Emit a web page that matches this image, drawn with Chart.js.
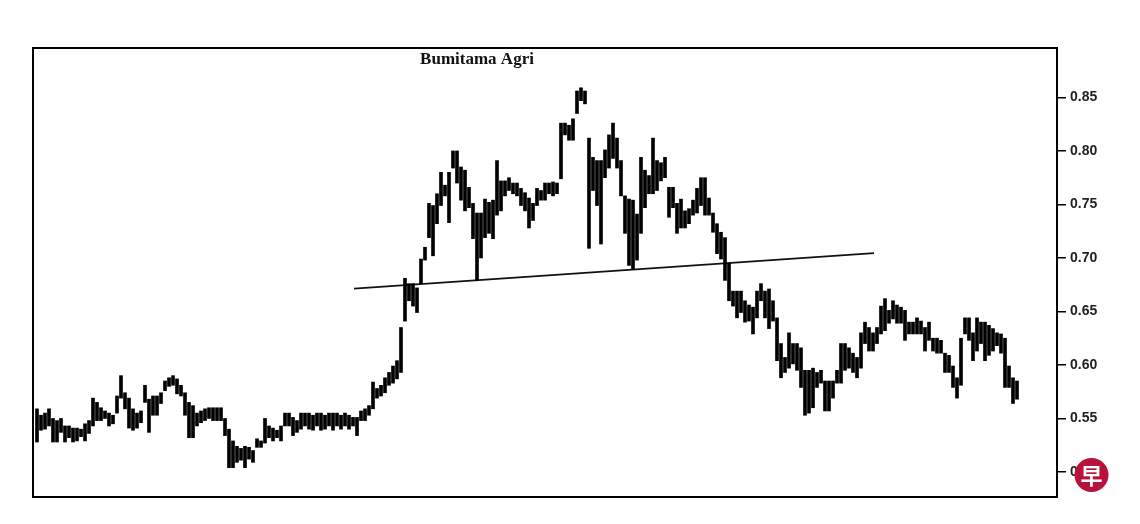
<!DOCTYPE html>
<html>
<head>
<meta charset="utf-8">
<script src="https://cdn.jsdelivr.net/npm/chart.js@4"></script>
<style>
  html, body { margin: 0; padding: 0; background: #fff; }
  canvas { display: block; }
</style>
</head>
<body>
<canvas id="priceChart" width="1140" height="524"></canvas>
<script>
const chartTitle = 'Bumitama Agri';

// daily high / low, one per trading session
const highs = [
  .559,.553,.555,.559,.550,.548,.550,.543,.543,.541,
  .541,.540,.545,.548,.569,.565,.560,.557,.555,.553,
  .571,.590,.574,.569,.559,.555,.557,.581,.568,.571,
  .571,.574,.585,.588,.590,.587,.581,.574,.565,.562,
  .555,.557,.559,.560,.560,.560,.560,.550,.540,.529,
  .524,.522,.524,.523,.520,.531,.529,.550,.543,.541,
  .539,.543,.555,.555,.551,.548,.555,.555,.555,.553,
  .555,.555,.553,.555,.555,.555,.553,.555,.553,.551,
  .551,.557,.559,.562,.584,.578,.581,.588,.593,.599,
  .604,.635,.681,.676,.676,.672,.699,.710,.751,.749,
  .760,.780,.768,.780,.800,.800,.785,.782,.766,.751,
  .742,.742,.755,.752,.754,.791,.772,.772,.775,.770,
  .770,.765,.761,.756,.751,.765,.763,.770,.770,.771,
  .770,.826,.826,.824,.830,.856,.859,.856,.812,.794,
  .791,.791,.801,.815,.826,.812,.791,.758,.755,.754,
  .741,.794,.782,.777,.812,.791,.789,.794,.766,.766,
  .751,.755,.744,.746,.754,.765,.775,.775,.756,.742,
  .732,.724,.719,.695,.669,.669,.669,.660,.656,.654,
  .669,.676,.669,.671,.660,.644,.620,.607,.630,.620,
  .620,.616,.595,.595,.597,.593,.595,.585,.585,.585,
  .595,.620,.620,.616,.611,.607,.630,.640,.635,.630,
  .635,.655,.662,.651,.660,.656,.654,.651,.640,.640,
  .644,.641,.635,.640,.625,.625,.623,.611,.609,.599,
  .588,.625,.644,.644,.630,.644,.640,.640,.637,.634,
  .630,.629,.625,.599,.588,.585
];
const lows = [
  .528,.539,.540,.543,.528,.528,.537,.528,.532,.528,
  .529,.533,.529,.536,.543,.548,.548,.550,.543,.545,
  .555,.569,.559,.541,.539,.541,.546,.565,.537,.553,
  .553,.564,.576,.580,.581,.573,.571,.553,.532,.532,
  .543,.546,.548,.550,.548,.548,.548,.534,.504,.504,
  .509,.511,.504,.512,.509,.523,.523,.527,.532,.529,
  .532,.529,.543,.543,.534,.537,.540,.543,.540,.539,
  .543,.539,.540,.543,.539,.543,.540,.543,.540,.543,
  .534,.548,.548,.553,.559,.569,.571,.574,.581,.583,
  .587,.593,.641,.660,.655,.649,.676,.698,.719,.702,
  .732,.749,.758,.733,.784,.770,.754,.744,.747,.718,
  .679,.700,.719,.723,.718,.740,.744,.758,.763,.760,
  .758,.749,.744,.728,.735,.749,.754,.754,.760,.758,
  .760,.774,.815,.810,.810,.835,.847,.844,.709,.763,
  .749,.713,.775,.784,.793,.784,.758,.723,.693,.690,
  .698,.723,.747,.760,.760,.763,.772,.775,.738,.747,
  .723,.728,.728,.732,.740,.742,.749,.740,.740,.724,
  .704,.699,.679,.660,.655,.644,.649,.640,.641,.629,
  .644,.660,.644,.634,.641,.604,.588,.593,.597,.601,
  .595,.579,.553,.555,.560,.579,.583,.557,.557,.569,
  .583,.583,.595,.597,.593,.588,.597,.620,.613,.613,
  .620,.629,.632,.639,.643,.639,.639,.623,.629,.629,
  .629,.629,.613,.623,.613,.611,.611,.593,.593,.579,
  .569,.581,.629,.623,.604,.613,.620,.604,.609,.613,
  .618,.611,.579,.579,.564,.568
];

// neckline drawn on the chart (session index, price)
const trendX = [79.25, 209.25];
const trendY = [0.6713, 0.7045];

const tickValues = [0.50, 0.55, 0.60, 0.65, 0.70, 0.75, 0.80, 0.85];
const tickLabels = ['0.50', '0.55', '0.60', '0.65', '0.70', '0.75', '0.80', '0.85'];

const totalSlots = 256; // sessions incl. empty room on the right

// frame round the plot + title + logo
const decorPlugin = {
  id: 'decor',
  afterDatasetsDraw(chart) {
    const { ctx, chartArea: a } = chart;
    ctx.save();
    ctx.strokeStyle = '#000';
    ctx.lineWidth = 2;
    ctx.strokeRect(a.left, a.top, a.right - a.left, a.bottom - a.top);

    ctx.fillStyle = '#111';
    ctx.font = "bold 17px 'Liberation Serif', serif";
    ctx.textAlign = 'center';
    ctx.textBaseline = 'alphabetic';
    ctx.fillText(chartTitle, 477, 64);
    ctx.restore();
  },
  afterDraw(chart) {
    const ctx = chart.ctx;
    ctx.save();
    ctx.beginPath();
    ctx.arc(1091.5, 475, 17, 0, Math.PI * 2);
    ctx.fillStyle = '#b8123c';
    ctx.fill();
    ctx.fillStyle = '#fff';
    ctx.font = "bold 22px 'Noto Sans CJK SC', sans-serif";
    ctx.textAlign = 'center';
    ctx.textBaseline = 'middle';
    ctx.fillText('早', 1091.5, 476);
    ctx.restore();
  }
};

const ctx = document.getElementById('priceChart').getContext('2d');
new Chart(ctx, {
  data: {
    datasets: [
      {
        type: 'bar',
        data: highs.map((h, i) => ({ x: i, y: [lows[i], h] })),
        backgroundColor: '#000',
        borderWidth: 0,
        barThickness: 3,
        grouped: false
      },
      {
        type: 'line',
        data: trendX.map((x, i) => ({ x: x, y: trendY[i] })),
        borderColor: '#111',
        borderWidth: 1.6,
        pointRadius: 0,
        fill: false
      }
    ]
  },
  options: {
    responsive: false,
    animation: false,
    devicePixelRatio: 1,
    layout: { padding: { left: 33, top: 48, right: 0, bottom: 27 } },
    plugins: { legend: { display: false }, tooltip: { enabled: false } },
    scales: {
      x: {
        type: 'linear',
        min: -1,
        max: totalSlots - 1,
        offset: false,
        grid: { offset: false },
        display: false
      },
      y: {
        type: 'linear',
        position: 'right',
        min: 0.4766,
        max: 0.8962,
        afterBuildTicks: s => { s.ticks = tickValues.map(v => ({ value: v })); },
        afterFit: s => { s.width = 83; },
        grid: { drawOnChartArea: false, drawTicks: true, tickLength: 9, color: '#000', lineWidth: 1.5 },
        border: { display: true, color: '#000', width: 2 },
        ticks: {
          padding: 4,
          color: '#222',
          font: { family: "'Liberation Sans', Arial, sans-serif", weight: 'bold', size: 14 },
          callback: (v, i) => tickLabels[i]
        }
      }
    }
  },
  plugins: [decorPlugin]
});
</script>
</body>
</html>
